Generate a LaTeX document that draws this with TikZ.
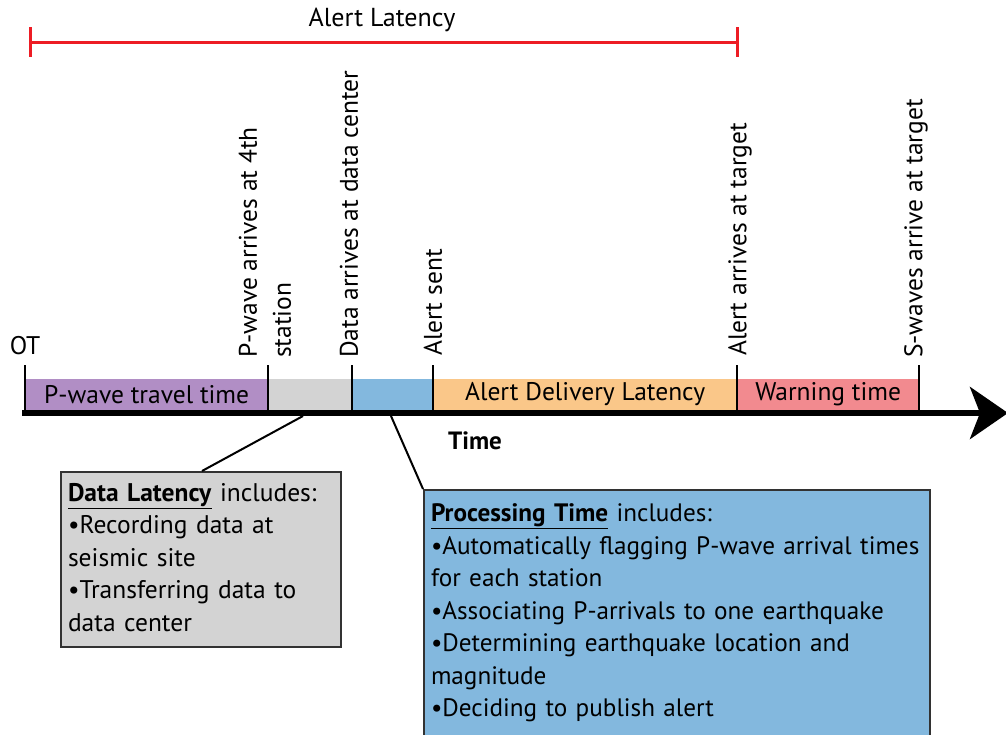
\documentclass[tikz,border=0pt]{standalone}
\usepackage{fontspec}
\setmainfont{PT Sans}
\usetikzlibrary{arrows.meta,calc}
\definecolor{alertred}{RGB}{237,28,36}
\definecolor{segpurple}{RGB}{177,142,197}
\definecolor{seggray}{RGB}{211,211,211}
\definecolor{segblue}{RGB}{131,184,222}
\definecolor{segorange}{RGB}{250,199,137}
\definecolor{segpink}{RGB}{242,138,143}
\definecolor{boxedge}{RGB}{50,50,50}
\tikzset{
  txt/.style={font=\fontsize{25.5}{32.5}\selectfont, inner sep=0pt},
  seg/.style={txt, minimum height=31pt, anchor=south west},
  vlabel/.style={txt, rotate=90, anchor=west, align=left},
  tick/.style={line width=1.5pt},
  infobox/.style={txt, draw=boxedge, line width=2pt, anchor=north west, align=left},
  conn/.style={line width=2pt},
}
\begin{document}
\begin{tikzpicture}[x=1pt,y=-1pt]
\useasboundingbox (0,0) rectangle (1006,734);
% alert latency bar
\coordinate (al0) at (30,42);
\coordinate (al1) at (737,42);
\draw[alertred, line width=3pt] (al0) -- (al1);
\draw[alertred, line width=3pt] ($(al0)+(0,-15)$) -- ($(al0)+(0,15)$);
\draw[alertred, line width=3pt] ($(al1)+(0,-15)$) -- ($(al1)+(0,15)$);
\node[txt, font=\fontsize{26}{30}\selectfont] (altext) at (382,20) {Alert Latency};
% segments
\node[seg, fill=segpurple, minimum width=243pt] (s1) at (25,410) {P-wave travel time};
\node[seg, fill=seggray, minimum width=84pt] (s2) at (268,410) {};
\node[seg, fill=segblue, minimum width=81pt] (s3) at (352,410) {};
\node[seg, fill=segorange, minimum width=304pt] (s4) at (433,410) {Alert Delivery Latency};
\node[seg, fill=segpink, minimum width=182pt] (s5) at (737,410) {Warning time};
% timeline
\coordinate (tl0) at (22,413);
\coordinate (tl1) at (1008,413);
\draw[line width=6pt, -{Stealth[length=38pt,width=52pt,inset=10pt]}] (tl0) -- (tl1);
% ticks
\foreach \x in {25,268,352,433,737,919} {\draw[tick] (\x,365) -- (\x,410);}
% labels
\node[txt] (ot) at (25,346) {OT};
\node[vlabel] (l1) at (265,358) {P-wave arrives at 4th\\[1.5pt]station};
\node[vlabel] (l2) at (349,358) {Data arrives at data center};
\node[vlabel] (l3) at (433,356) {Alert sent};
\node[vlabel] (l4) at (740,356) {Alert arrives at target};
\node[vlabel] (l5) at (916,358) {S-waves arrive at target};
\node[txt, font=\fontsize{25}{28}\selectfont\bfseries] (time) at (475,441) {Time};
% boxes
\node[infobox, fill=seggray, minimum width=280pt, minimum height=175pt, text width=266pt, inner xsep=7pt] (dl) at (60,471)
 {\underline{\textbf{Data Latency}} includes:\\
  •Recording data at\\
  seismic site\\
  •Transferring data to\\
  data center\vspace{4pt}};
\node[infobox, fill=segblue, minimum width=506pt, minimum height=246pt, text width=498pt, inner xsep=4pt,
      font=\fontsize{25.2}{32.5}\selectfont] (pt) at (423,489)
 {\hspace*{3pt}\underline{\textbf{Processing Time}} includes:\\
  \hspace*{3pt}•Automatically flagging P-wave arrival times\\
  \hspace*{3pt}for each station\\
  \hspace*{3pt}•Associating P-arrivals to one earthquake\\
  \hspace*{3pt}•Determining earthquake location and\\
  \hspace*{3pt}magnitude\\
  \hspace*{3pt}•Deciding to publish alert};
% connectors
\coordinate (c1) at (303,416);
\coordinate (c2) at (391,416);
\draw[conn] (c1) -- ($(dl.north west)+(142,0)$);
\draw[conn] (c2) -- (pt.north west);
\end{tikzpicture}
\end{document}
